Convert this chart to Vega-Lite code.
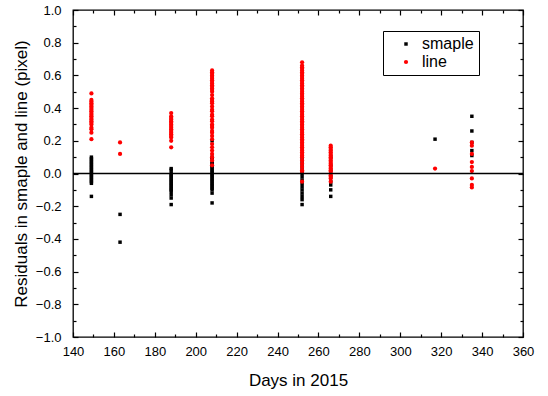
{
  "$schema": "https://vega.github.io/schema/vega-lite/v6.json",
  "width": 450,
  "height": 327,
  "autosize": "none",
  "padding": {"left": 73, "top": 10, "right": 25, "bottom": 59},
  "background": "white",
  "config": {
    "font": "Liberation Sans",
    "view": {"stroke": "black", "strokeWidth": 1.3},
    "axis": {"grid": false, "domain": false, "tickColor": "black", "labelColor": "black", "titleColor": "black", "labelFont": "Liberation Sans", "titleFont": "Liberation Sans", "labelFontSize": 13, "titleFontSize": 17, "titleFontWeight": "normal", "tickWidth": 1.2}
  },
  "datasets": {
    "pts": [
      {"d":149,"r":0.10,"s":"smaple"},{"d":149,"r":0.09,"s":"smaple"},{"d":149,"r":0.08,"s":"smaple"},{"d":149,"r":0.07,"s":"smaple"},{"d":149,"r":0.06,"s":"smaple"},{"d":149,"r":0.05,"s":"smaple"},{"d":149,"r":0.04,"s":"smaple"},{"d":149,"r":0.03,"s":"smaple"},{"d":149,"r":0.02,"s":"smaple"},{"d":149,"r":0.01,"s":"smaple"},{"d":149,"r":0.0,"s":"smaple"},{"d":149,"r":-0.01,"s":"smaple"},{"d":149,"r":-0.02,"s":"smaple"},{"d":149,"r":-0.03,"s":"smaple"},{"d":149,"r":-0.04,"s":"smaple"},{"d":149,"r":-0.05,"s":"smaple"},{"d":149,"r":-0.06,"s":"smaple"},{"d":149,"r":-0.14,"s":"smaple"},
      {"d":163,"r":-0.25,"s":"smaple"},{"d":163,"r":-0.42,"s":"smaple"},
      {"d":188,"r":0.03,"s":"smaple"},{"d":188,"r":0.02,"s":"smaple"},{"d":188,"r":0.0,"s":"smaple"},{"d":188,"r":-0.01,"s":"smaple"},{"d":188,"r":-0.02,"s":"smaple"},{"d":188,"r":-0.03,"s":"smaple"},{"d":188,"r":-0.04,"s":"smaple"},{"d":188,"r":-0.05,"s":"smaple"},{"d":188,"r":-0.06,"s":"smaple"},{"d":188,"r":-0.07,"s":"smaple"},{"d":188,"r":-0.08,"s":"smaple"},{"d":188,"r":-0.09,"s":"smaple"},{"d":188,"r":-0.10,"s":"smaple"},{"d":188,"r":-0.11,"s":"smaple"},{"d":188,"r":-0.13,"s":"smaple"},{"d":188,"r":-0.15,"s":"smaple"},{"d":188,"r":-0.19,"s":"smaple"},
      {"d":208,"r":0.20,"s":"smaple"},{"d":208,"r":0.10,"s":"smaple"},{"d":208,"r":0.09,"s":"smaple"},{"d":208,"r":0.07,"s":"smaple"},{"d":208,"r":0.06,"s":"smaple"},{"d":208,"r":0.05,"s":"smaple"},{"d":208,"r":0.04,"s":"smaple"},{"d":208,"r":0.03,"s":"smaple"},{"d":208,"r":0.02,"s":"smaple"},{"d":208,"r":0.01,"s":"smaple"},{"d":208,"r":0.0,"s":"smaple"},{"d":208,"r":-0.01,"s":"smaple"},{"d":208,"r":-0.02,"s":"smaple"},{"d":208,"r":-0.03,"s":"smaple"},{"d":208,"r":-0.04,"s":"smaple"},{"d":208,"r":-0.05,"s":"smaple"},{"d":208,"r":-0.06,"s":"smaple"},{"d":208,"r":-0.07,"s":"smaple"},{"d":208,"r":-0.08,"s":"smaple"},{"d":208,"r":-0.09,"s":"smaple"},{"d":208,"r":-0.10,"s":"smaple"},{"d":208,"r":-0.12,"s":"smaple"},{"d":208,"r":-0.18,"s":"smaple"},
      {"d":252,"r":0.10,"s":"smaple"},{"d":252,"r":0.08,"s":"smaple"},{"d":252,"r":0.06,"s":"smaple"},{"d":252,"r":0.04,"s":"smaple"},{"d":252,"r":0.02,"s":"smaple"},{"d":252,"r":0.0,"s":"smaple"},{"d":252,"r":-0.02,"s":"smaple"},{"d":252,"r":-0.04,"s":"smaple"},{"d":252,"r":-0.06,"s":"smaple"},{"d":252,"r":-0.08,"s":"smaple"},{"d":252,"r":-0.10,"s":"smaple"},{"d":252,"r":-0.12,"s":"smaple"},{"d":252,"r":-0.14,"s":"smaple"},{"d":252,"r":-0.16,"s":"smaple"},{"d":252,"r":-0.19,"s":"smaple"},
      {"d":266,"r":0.10,"s":"smaple"},{"d":266,"r":0.05,"s":"smaple"},{"d":266,"r":0.02,"s":"smaple"},{"d":266,"r":-0.02,"s":"smaple"},{"d":266,"r":-0.05,"s":"smaple"},{"d":266,"r":-0.07,"s":"smaple"},{"d":266,"r":-0.10,"s":"smaple"},{"d":266,"r":-0.14,"s":"smaple"},
      {"d":317,"r":0.21,"s":"smaple"},
      {"d":335,"r":0.35,"s":"smaple"},{"d":335,"r":0.26,"s":"smaple"},{"d":335,"r":0.19,"s":"smaple"},{"d":335,"r":0.14,"s":"smaple"},{"d":335,"r":0.11,"s":"smaple"},
      {"d":149,"r":0.49,"s":"line"},{"d":149,"r":0.45,"s":"line"},{"d":149,"r":0.44,"s":"line"},{"d":149,"r":0.43,"s":"line"},{"d":149,"r":0.42,"s":"line"},{"d":149,"r":0.41,"s":"line"},{"d":149,"r":0.40,"s":"line"},{"d":149,"r":0.39,"s":"line"},{"d":149,"r":0.38,"s":"line"},{"d":149,"r":0.37,"s":"line"},{"d":149,"r":0.36,"s":"line"},{"d":149,"r":0.35,"s":"line"},{"d":149,"r":0.34,"s":"line"},{"d":149,"r":0.33,"s":"line"},{"d":149,"r":0.32,"s":"line"},{"d":149,"r":0.31,"s":"line"},{"d":149,"r":0.30,"s":"line"},{"d":149,"r":0.28,"s":"line"},{"d":149,"r":0.27,"s":"line"},{"d":149,"r":0.25,"s":"line"},{"d":149,"r":0.21,"s":"line"},
      {"d":163,"r":0.19,"s":"line"},{"d":163,"r":0.12,"s":"line"},
      {"d":188,"r":0.37,"s":"line"},{"d":188,"r":0.35,"s":"line"},{"d":188,"r":0.34,"s":"line"},{"d":188,"r":0.33,"s":"line"},{"d":188,"r":0.32,"s":"line"},{"d":188,"r":0.31,"s":"line"},{"d":188,"r":0.30,"s":"line"},{"d":188,"r":0.29,"s":"line"},{"d":188,"r":0.28,"s":"line"},{"d":188,"r":0.27,"s":"line"},{"d":188,"r":0.26,"s":"line"},{"d":188,"r":0.25,"s":"line"},{"d":188,"r":0.24,"s":"line"},{"d":188,"r":0.23,"s":"line"},{"d":188,"r":0.22,"s":"line"},{"d":188,"r":0.20,"s":"line"},{"d":188,"r":0.16,"s":"line"},
      {"d":208,"r":0.63,"s":"line"},{"d":208,"r":0.62,"s":"line"},{"d":208,"r":0.61,"s":"line"},{"d":208,"r":0.60,"s":"line"},{"d":208,"r":0.59,"s":"line"},{"d":208,"r":0.58,"s":"line"},{"d":208,"r":0.57,"s":"line"},{"d":208,"r":0.56,"s":"line"},{"d":208,"r":0.55,"s":"line"},{"d":208,"r":0.54,"s":"line"},{"d":208,"r":0.53,"s":"line"},{"d":208,"r":0.52,"s":"line"},{"d":208,"r":0.51,"s":"line"},{"d":208,"r":0.50,"s":"line"},{"d":208,"r":0.48,"s":"line"},{"d":208,"r":0.46,"s":"line"},{"d":208,"r":0.45,"s":"line"},{"d":208,"r":0.44,"s":"line"},{"d":208,"r":0.43,"s":"line"},{"d":208,"r":0.41,"s":"line"},{"d":208,"r":0.39,"s":"line"},{"d":208,"r":0.38,"s":"line"},{"d":208,"r":0.36,"s":"line"},{"d":208,"r":0.35,"s":"line"},{"d":208,"r":0.33,"s":"line"},{"d":208,"r":0.32,"s":"line"},{"d":208,"r":0.30,"s":"line"},{"d":208,"r":0.29,"s":"line"},{"d":208,"r":0.28,"s":"line"},{"d":208,"r":0.26,"s":"line"},{"d":208,"r":0.25,"s":"line"},{"d":208,"r":0.23,"s":"line"},{"d":208,"r":0.21,"s":"line"},{"d":208,"r":0.18,"s":"line"},{"d":208,"r":0.16,"s":"line"},{"d":208,"r":0.14,"s":"line"},{"d":208,"r":0.12,"s":"line"},{"d":208,"r":0.10,"s":"line"},{"d":208,"r":0.08,"s":"line"},{"d":208,"r":0.05,"s":"line"},
      {"d":252,"r":0.68,"s":"line"},{"d":252,"r":0.66,"s":"line"},{"d":252,"r":0.65,"s":"line"},{"d":252,"r":0.64,"s":"line"},{"d":252,"r":0.63,"s":"line"},{"d":252,"r":0.62,"s":"line"},{"d":252,"r":0.61,"s":"line"},{"d":252,"r":0.60,"s":"line"},{"d":252,"r":0.59,"s":"line"},{"d":252,"r":0.58,"s":"line"},{"d":252,"r":0.57,"s":"line"},{"d":252,"r":0.56,"s":"line"},{"d":252,"r":0.55,"s":"line"},{"d":252,"r":0.54,"s":"line"},{"d":252,"r":0.53,"s":"line"},{"d":252,"r":0.52,"s":"line"},{"d":252,"r":0.51,"s":"line"},{"d":252,"r":0.50,"s":"line"},{"d":252,"r":0.49,"s":"line"},{"d":252,"r":0.48,"s":"line"},{"d":252,"r":0.47,"s":"line"},{"d":252,"r":0.46,"s":"line"},{"d":252,"r":0.45,"s":"line"},{"d":252,"r":0.44,"s":"line"},{"d":252,"r":0.43,"s":"line"},{"d":252,"r":0.42,"s":"line"},{"d":252,"r":0.41,"s":"line"},{"d":252,"r":0.40,"s":"line"},{"d":252,"r":0.39,"s":"line"},{"d":252,"r":0.38,"s":"line"},{"d":252,"r":0.37,"s":"line"},{"d":252,"r":0.36,"s":"line"},{"d":252,"r":0.35,"s":"line"},{"d":252,"r":0.34,"s":"line"},{"d":252,"r":0.33,"s":"line"},{"d":252,"r":0.32,"s":"line"},{"d":252,"r":0.31,"s":"line"},{"d":252,"r":0.30,"s":"line"},{"d":252,"r":0.29,"s":"line"},{"d":252,"r":0.28,"s":"line"},{"d":252,"r":0.27,"s":"line"},{"d":252,"r":0.26,"s":"line"},{"d":252,"r":0.25,"s":"line"},{"d":252,"r":0.24,"s":"line"},{"d":252,"r":0.23,"s":"line"},{"d":252,"r":0.22,"s":"line"},{"d":252,"r":0.21,"s":"line"},{"d":252,"r":0.20,"s":"line"},{"d":252,"r":0.19,"s":"line"},{"d":252,"r":0.18,"s":"line"},{"d":252,"r":0.17,"s":"line"},{"d":252,"r":0.16,"s":"line"},{"d":252,"r":0.15,"s":"line"},{"d":252,"r":0.14,"s":"line"},{"d":252,"r":0.13,"s":"line"},{"d":252,"r":0.12,"s":"line"},{"d":252,"r":0.11,"s":"line"},{"d":252,"r":0.10,"s":"line"},{"d":252,"r":0.08,"s":"line"},{"d":252,"r":0.06,"s":"line"},{"d":252,"r":0.04,"s":"line"},{"d":252,"r":0.02,"s":"line"},{"d":252,"r":0.01,"s":"line"},{"d":252,"r":-0.05,"s":"line"},
      {"d":266,"r":0.17,"s":"line"},{"d":266,"r":0.16,"s":"line"},{"d":266,"r":0.15,"s":"line"},{"d":266,"r":0.14,"s":"line"},{"d":266,"r":0.13,"s":"line"},{"d":266,"r":0.12,"s":"line"},{"d":266,"r":0.11,"s":"line"},{"d":266,"r":0.10,"s":"line"},{"d":266,"r":0.09,"s":"line"},{"d":266,"r":0.08,"s":"line"},{"d":266,"r":0.07,"s":"line"},{"d":266,"r":0.06,"s":"line"},{"d":266,"r":0.05,"s":"line"},{"d":266,"r":0.04,"s":"line"},{"d":266,"r":0.03,"s":"line"},{"d":266,"r":0.02,"s":"line"},{"d":266,"r":0.01,"s":"line"},{"d":266,"r":0.0,"s":"line"},{"d":266,"r":-0.01,"s":"line"},{"d":266,"r":-0.02,"s":"line"},{"d":266,"r":-0.03,"s":"line"},{"d":266,"r":-0.05,"s":"line"},
      {"d":317,"r":0.03,"s":"line"},
      {"d":335,"r":0.19,"s":"line"},{"d":335,"r":0.17,"s":"line"},{"d":335,"r":0.12,"s":"line"},{"d":335,"r":0.07,"s":"line"},{"d":335,"r":0.04,"s":"line"},{"d":335,"r":0.015,"s":"line"},{"d":335,"r":-0.03,"s":"line"},{"d":335,"r":-0.07,"s":"line"},{"d":335,"r":-0.085,"s":"line"}
    ],
    "zero": [{"z": 0}]
  },
  "layer": [
    {
      "data": {"name": "pts"},
      "mark": {"type": "point", "filled": true, "opacity": 1},
      "encoding": {
        "x": {"field": "d", "type": "quantitative", "scale": {"domain": [140, 360], "nice": false}, "title": "Days in 2015",
          "axis": {"values": [140,150,160,170,180,190,200,210,220,230,240,250,260,270,280,290,300,310,320,330,340,350,360],
            "labelExpr": "datum.value % 20 === 0 ? datum.label : ''",
            "tickSize": {"condition": {"test": "datum.value % 20 === 0", "value": -5}, "value": -3},
            "labelPadding": 13, "titlePadding": 12, "labelFlush": false, "labelOverlap": false}},
        "y": {"field": "r", "type": "quantitative", "scale": {"domain": [-1, 1], "nice": false}, "title": "Residuals in smaple and line (pixel)",
          "axis": {"values": [-1,-0.9,-0.8,-0.7,-0.6,-0.5,-0.4,-0.3,-0.2,-0.1,0,0.1,0.2,0.3,0.4,0.5,0.6,0.7,0.8,0.9,1],
            "labelExpr": "abs(round(datum.value*10)) % 2 === 0 ? format(datum.value, '.1f') : ''",
            "tickSize": {"condition": {"test": "abs(round(datum.value*10)) % 2 === 0", "value": -5}, "value": -3},
            "labelPadding": 17, "titlePadding": 5, "labelFlush": false, "labelOverlap": false}},
        "color": {"field": "s", "type": "nominal", "scale": {"domain": ["smaple", "line"], "range": ["black", "#ff0000"]},
          "legend": {"title": null, "orient": "none", "legendX": 310, "legendY": 21, "strokeColor": "black", "padding": 5, "labelFontSize": 16, "labelColor": "black", "symbolSize": 12, "rowPadding": 2, "labelOffset": 8, "symbolOffset": 10, "fillColor": "white"}},
        "shape": {"field": "s", "type": "nominal", "scale": {"domain": ["smaple", "line"], "range": ["square", "circle"]}},
        "size": {"field": "s", "type": "nominal", "scale": {"domain": ["smaple", "line"], "range": [12, 18]}, "legend": null}
      }
    },
    {
      "data": {"name": "zero"},
      "mark": {"type": "rule", "color": "black", "strokeWidth": 1.5},
      "encoding": {
        "y": {"field": "z", "type": "quantitative",
          "axis": {"orient": "right", "title": null, "labels": false, "values": [-1,-0.9,-0.8,-0.7,-0.6,-0.5,-0.4,-0.3,-0.2,-0.1,0,0.1,0.2,0.3,0.4,0.5,0.6,0.7,0.8,0.9,1],
            "tickSize": {"condition": {"test": "abs(round(datum.value*10)) % 2 === 0", "value": -5}, "value": -3}}},
        "x": {"datum": 140, "type": "quantitative",
          "axis": {"orient": "top", "title": null, "labels": false, "values": [140,150,160,170,180,190,200,210,220,230,240,250,260,270,280,290,300,310,320,330,340,350,360],
            "tickSize": {"condition": {"test": "datum.value % 20 === 0", "value": -5}, "value": -3}}},
        "x2": {"datum": 360}
      }
    }
  ],
  "resolve": {"axis": {"x": "independent", "y": "independent"}}
}
